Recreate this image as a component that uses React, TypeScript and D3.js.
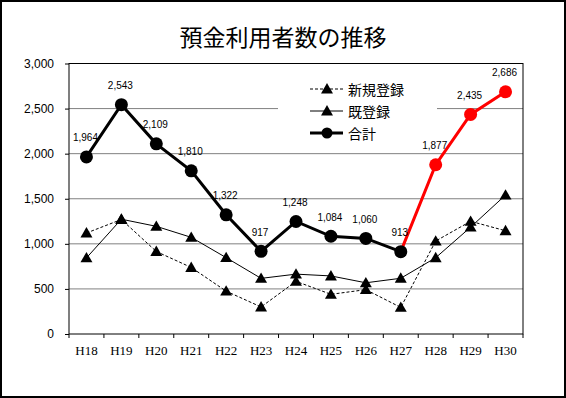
import * as d3 from 'd3';
import React, { useEffect, useRef } from 'react';

const categories = ["H18", "H19", "H20", "H21", "H22", "H23", "H24", "H25", "H26", "H27", "H28", "H29", "H30"];
const newRegistrations = [1120, 1270, 915, 738, 475, 300, 584, 440, 492, 295, 1031, 1250, 1145];
const existingRegistrations = [844, 1273, 1194, 1072, 847, 617, 664, 644, 568, 618, 846, 1185, 1541];
const totals = [1964, 2543, 2109, 1810, 1322, 917, 1248, 1084, 1060, 913, 1877, 2435, 2686];
const yTicks = [0, 500, 1000, 1500, 2000, 2500, 3000];
const seriesNames = ["新規登録", "既登録", "合計"];
const redFrom = "H27"; // total line turns red after this year

const W = 566;
const H = 398;

export default function App() {
    const ref = useRef<SVGSVGElement>(null);

    useEffect(() => {
        const svg = d3.select(ref.current);
        svg.selectAll('*').remove();

        const left = 69, right = 523, top = 63.5, bottom = 334;
        const x = d3.scaleBand<string>().domain(categories).range([left, right]);
        const y = d3.scaleLinear().domain([0, 3000]).range([bottom, top]);
        const cx = (c: string) => (x(c) as number) + x.bandwidth() / 2;

        svg.append('rect')
            .attr('x', 1).attr('y', 1).attr('width', W - 2).attr('height', H - 2)
            .attr('fill', 'white').attr('stroke', 'black').attr('stroke-width', 2);

        svg.append('text')
            .attr('x', 283).attr('y', 36)
            .attr('text-anchor', 'middle').attr('dominant-baseline', 'central')
            .attr('font-family', '"Noto Sans CJK JP"').attr('font-size', 23)
            .text('預金利用者数の推移');

        // gridlines
        svg.append('g').selectAll('line')
            .data(yTicks.filter(t => t > 0 && t < 3000))
            .join('line')
            .attr('x1', left).attr('x2', right)
            .attr('y1', d => y(d)).attr('y2', d => y(d))
            .attr('stroke', '#808080').attr('stroke-width', 1);

        // legend background hides part of the gridline
        svg.append('rect')
            .attr('x', 278).attr('y', 74).attr('width', 159).attr('height', 70)
            .attr('fill', 'white');

        svg.append('rect')
            .attr('x', left).attr('y', top).attr('width', right - left).attr('height', bottom - top)
            .attr('fill', 'none').attr('stroke', 'black').attr('stroke-width', 1);

        const yAxis = d3.axisLeft(y).tickValues(yTicks).tickSize(4).tickFormat(d3.format(','));
        const gy = svg.append('g').attr('transform', `translate(${left},0)`).call(yAxis);
        gy.select('.domain').remove();
        gy.selectAll('text').attr('font-family', '"Liberation Sans"').attr('font-size', 12)
            .attr('x', -15).attr('fill', '#000');

        const xAxis = d3.axisBottom(x).tickSize(0).tickPadding(12);
        const gx = svg.append('g').attr('transform', `translate(0,${bottom})`).call(xAxis);
        gx.select('.domain').remove();
        gx.selectAll('text').attr('font-family', '"Liberation Serif"').attr('font-size', 13)
            .attr('fill', '#000');
        svg.append('g').selectAll('line')
            .data(d3.range(categories.length + 1))
            .join('line')
            .attr('x1', i => left + i * x.bandwidth()).attr('x2', i => left + i * x.bandwidth())
            .attr('y1', bottom).attr('y2', bottom + 4)
            .attr('stroke', 'black');

        const tri = d3.symbol(d3.symbolTriangle, 62)();

        const drawTriSeries = (vals: number[], dash: string | null) => {
            const line = d3.line<number>().x((_, i) => cx(categories[i])).y(d => y(d));
            svg.append('path').attr('d', line(vals)).attr('fill', 'none')
                .attr('stroke', 'black').attr('stroke-width', 1)
                .attr('stroke-dasharray', dash);
        };
        drawTriSeries(newRegistrations, '3,2');
        drawTriSeries(existingRegistrations, null);
        [newRegistrations, existingRegistrations].forEach(vals => {
            svg.append('g').selectAll('path')
                .data(vals)
                .join('path')
                .attr('d', tri)
                .attr('transform', (d, i) => `translate(${cx(categories[i])},${y(d) + 1})`)
                .attr('fill', 'black');
        });

        // total
        const split = categories.indexOf(redFrom);
        const totalLine = d3.line<number>().x((_, i) => cx(categories[i])).y(d => y(d));
        const blackPart = totals.slice(0, split + 1);
        const redPart = totals.slice(split);
        svg.append('path').attr('d', totalLine(blackPart)).attr('fill', 'none')
            .attr('stroke', 'black').attr('stroke-width', 3);
        svg.append('path')
            .attr('d', d3.line<number>().x((_, i) => cx(categories[i + split])).y(d => y(d))(redPart))
            .attr('fill', 'none').attr('stroke', '#ff0000').attr('stroke-width', 3);
        svg.append('g').selectAll('circle')
            .data(totals)
            .join('circle')
            .attr('cx', (_, i) => cx(categories[i]))
            .attr('cy', d => y(d))
            .attr('r', 6.5)
            .attr('fill', (_, i) => i > split ? '#ff0000' : 'black');
        svg.append('g').selectAll('text')
            .data(totals)
            .join('text')
            .attr('x', (_, i) => cx(categories[i]) - 1)
            .attr('y', d => y(d) - 19)
            .attr('text-anchor', 'middle').attr('dominant-baseline', 'central')
            .attr('font-family', '"Liberation Sans"').attr('font-size', 10)
            .text(d => d3.format(',')(d));

        // legend
        const lg = svg.append('g');
        const rows = [89, 111, 133];
        seriesNames.forEach((name, i) => {
            const ly = rows[i];
            lg.append('line').attr('x1', 310).attr('x2', 343).attr('y1', ly).attr('y2', ly)
                .attr('stroke', 'black').attr('stroke-width', i === 2 ? 3 : 1)
                .attr('stroke-dasharray', i === 0 ? '3,2' : null);
            if (i === 2) {
                lg.append('circle').attr('cx', 327).attr('cy', ly).attr('r', 5.5).attr('fill', 'black');
            } else {
                lg.append('path').attr('d', tri).attr('transform', `translate(327,${ly + 1})`).attr('fill', 'black');
            }
            lg.append('text').attr('x', 348).attr('y', ly)
                .attr('dominant-baseline', 'central')
                .attr('font-family', '"Noto Sans CJK JP"').attr('font-size', 14)
                .text(name);
        });
    }, []);

    return (
        <div style={{ position: 'absolute', left: 0, top: 0 }}>
            <svg ref={ref} width={W} height={H} style={{ display: 'block' }} />
        </div>
    );
}
